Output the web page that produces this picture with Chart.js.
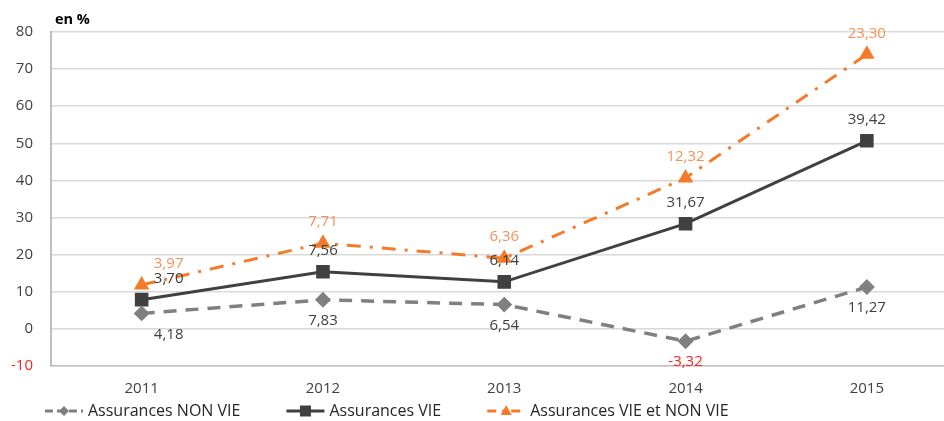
<!DOCTYPE html>
<html>
<head>
<meta charset="utf-8">
<script src="https://cdn.jsdelivr.net/npm/chart.js@4.4.1/dist/chart.umd.min.js"></script>
<style>
  body { margin: 0; background: #fff; overflow: hidden; }
  #wrap { width: 968px; height: 421px; }
</style>
</head>
<body>
<div id="wrap"><canvas id="lineCanvas" width="968" height="421"></canvas></div>
<script>
const years = ['2011', '2012', '2013', '2014', '2015'];
const nonVie = [4.18, 7.83, 6.54, -3.32, 11.27];
const vie = [3.70, 7.56, 6.14, 31.67, 39.42];
const vieEtNonVie = [3.97, 7.71, 6.36, 12.32, 23.30];

const FONT = "'Open Sans', 'DejaVu Sans', sans-serif";
const fmt = v => v.toFixed(2).replace('.', ',');

// labels above / below the points, first year shifted right like in the source
const dataLabels = {
    id: 'dataLabels',
    afterDatasetsDraw(chart) {
        const ctx = chart.ctx;
        ctx.save();
        ctx.font = '15px ' + FONT;
        ctx.textAlign = 'center';
        ctx.textBaseline = 'middle';
        chart.data.datasets.forEach((ds, i) => {
            const meta = chart.getDatasetMeta(i);
            meta.data.forEach((pt, j) => {
                const v = ds.data[j];
                const dx = j === 0 ? 27 : 0;
                ctx.fillStyle = v < 0 ? '#FF2020' : ds.labelColor;
                ctx.fillText(fmt(v), pt.x + dx, pt.y + ds.labelDy);
            });
        });
        ctx.restore();
    }
};

const extras = {
    id: 'extras',
    afterDraw(chart) {
        const ctx = chart.ctx;
        ctx.save();
        ctx.fillStyle = '#000';
        ctx.font = 'bold 14.5px ' + FONT;
        ctx.textBaseline = 'middle';
        ctx.fillText('en %', 55, 20);

        // legend
        let x = 45;
        const y = 411;
        ctx.font = '16px ' + FONT;
        chart.data.datasets.forEach(ds => {
            ctx.strokeStyle = ds.borderColor;
            ctx.lineWidth = 3;
            ctx.setLineDash(ds.legendDash);
            ctx.beginPath();
            ctx.moveTo(x, y);
            ctx.lineTo(x + 38, y);
            ctx.stroke();
            ctx.setLineDash([]);
            ctx.fillStyle = ds.borderColor;
            const cx = x + 19;
            ctx.beginPath();
            if (ds.pointStyle === 'rect') {
                ctx.rect(cx - 5.5, y - 5.5, 11, 11);
            } else if (ds.pointStyle === 'rectRot') {
                ctx.moveTo(cx, y - 5); ctx.lineTo(cx + 5, y); ctx.lineTo(cx, y + 5); ctx.lineTo(cx - 5, y);
            } else {
                ctx.moveTo(cx, y - 6); ctx.lineTo(cx + 5.5, y + 4); ctx.lineTo(cx - 5.5, y + 4);
            }
            ctx.closePath();
            ctx.fill();
            ctx.fillStyle = '#262626';
            ctx.fillText(ds.label, x + 43, y);
            x += 43 + ctx.measureText(ds.label).width + 46;
        });
        ctx.restore();
    }
};

new Chart(document.getElementById('lineCanvas'), {
    type: 'line',
    data: {
        labels: years,
        datasets: [{
            label: 'Assurances NON VIE',
            data: nonVie,
            borderColor: '#808080',
            backgroundColor: '#808080',
            borderWidth: 3.5,
            borderDash: [13, 9],
            legendDash: [8, 4],
            pointStyle: 'rectRot',
            pointRadius: 5.5,
            labelColor: '#404040',
            labelDy: 21
        }, {
            label: 'Assurances VIE',
            data: vie,
            borderColor: '#404040',
            backgroundColor: '#404040',
            borderWidth: 3,
            borderDash: [],
            legendDash: [],
            pointStyle: 'rect',
            pointRadius: 7.5,
            labelColor: '#404040',
            labelDy: -21
        }, {
            label: 'Assurances VIE et NON VIE',
            data: vieEtNonVie,
            borderColor: '#F47B2A',
            backgroundColor: '#F47B2A',
            borderWidth: 3,
            borderDash: [14, 9, 3, 9],
            legendDash: [9, 6, 3, 6],
            pointStyle: 'triangle',
            pointRadius: 6,
            labelColor: '#F5925A',
            labelDy: -21
        }]
    },
    options: {
        responsive: false,
        animation: false,
        layout: { padding: { left: 0, right: 4, top: 32, bottom: 22 } },
        elements: {
            line: { tension: 0, fill: false },
            point: { borderWidth: 1 }
        },
        plugins: {
            legend: { display: false },
            tooltip: { enabled: false }
        },
        scales: {
            x: {
                offset: true,
                grid: { display: false },
                border: { color: '#BFBFBF', width: 1.5 },
                ticks: { color: '#404040', font: { family: FONT, size: 15 }, padding: 6 },
                afterFit(scale) { scale.height = 33; }
            },
            y: {
                stacked: 'single',
                min: -10,
                max: 80,
                grid: { color: '#D9D9D9', lineWidth: 1.5, drawTicks: false },
                border: { color: '#BFBFBF', width: 2 },
                ticks: {
                    stepSize: 10,
                    padding: 18,
                    font: { family: FONT, size: 15 },
                    color: c => c.tick.value < 0 ? '#FF2020' : '#404040'
                },
                afterFit(scale) { scale.width = 51; }
            }
        }
    },
    plugins: [dataLabels, extras]
});
</script>
</body>
</html>
